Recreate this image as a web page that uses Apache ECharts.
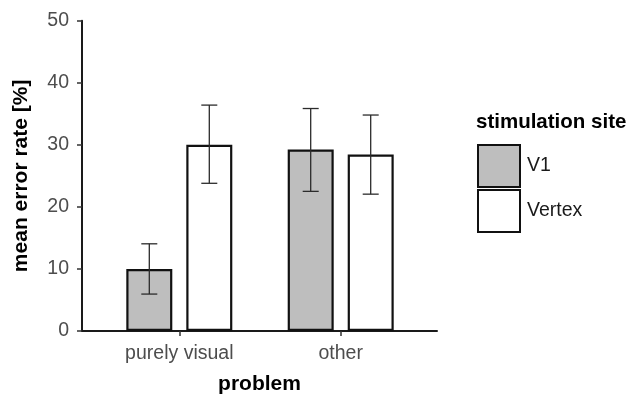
<!DOCTYPE html>
<html>
<head>
<meta charset="utf-8">
<script src="https://cdn.jsdelivr.net/npm/echarts@6/dist/echarts.min.js"></script>
<style>html,body{margin:0;padding:0;background:#fff}#c{width:629px;height:396px}</style>
</head>
<body>
<div id="c"></div>
<script>
const categories = ['purely visual', 'other'];
const seriesNames = ['V1', 'Vertex'];
const v1Mean = [10.0, 29.25];
const v1Low = [5.95, 22.5];
const v1High = [14.05, 35.85];
const vertexMean = [30.0, 28.45];
const vertexLow = [23.8, 22.05];
const vertexHigh = [36.4, 34.8];
const yTicks = [0, 10, 20, 30, 40, 50];

const FONT = "'Liberation Sans', Arial, sans-serif";
const BAR_W = 46, BAR_STEP = 60, CAP = 8;

function errSeries(lo, hi, sign) {
  return {
    type: 'custom', xAxisIndex: 1, yAxisIndex: 1, z: 5,
    data: categories.map((c, i) => [i, lo[i], hi[i]]),
    renderItem: function (params, api) {
      const a = api.coord([api.value(0), api.value(1)]);
      const b = api.coord([api.value(0), api.value(2)]);
      const x = a[0] + sign * BAR_STEP / 2;
      const st = { stroke: '#2b2b2b', lineWidth: 1.3 };
      return { type: 'group', children: [
        { type: 'line', shape: { x1: x, y1: a[1], x2: x, y2: b[1] }, style: st },
        { type: 'line', shape: { x1: x - CAP, y1: a[1], x2: x + CAP, y2: a[1] }, style: st },
        { type: 'line', shape: { x1: x - CAP, y1: b[1], x2: x + CAP, y2: b[1] }, style: st }
      ]};
    }
  };
}

const chart = echarts.init(document.getElementById('c'));
chart.setOption({
  animation: false,
  textStyle: { fontFamily: FONT },
  title: { text: 'stimulation site', left: 476, top: 112, padding: 0,
    textStyle: { fontFamily: FONT, fontSize: 20.5, fontWeight: 'bold', color: '#000' } },
  legend: {
    data: seriesNames, orient: 'vertical', left: 477, top: 144, padding: 0,
    itemWidth: 42, itemHeight: 42, itemGap: 1, icon: 'rect',
    textStyle: { fontFamily: FONT, fontSize: 19.5, color: '#1a1a1a', padding: [0, 0, 0, 2] }
  },
  grid: [
    { left: 82, right: 192, top: 20.7, bottom: 65, outerBoundsMode: 'none', containLabel: false },
    { left: 98.6, right: 207.6, top: 20.7, bottom: 65, outerBoundsMode: 'none', containLabel: false }
  ],
  xAxis: [
    { type: 'value', gridIndex: 0, min: 0.4, max: 2.6,
      axisLine: { show: true, lineStyle: { color: '#1a1a1a', width: 2 } },
      axisTick: { show: false }, axisLabel: { show: false }, splitLine: { show: false },
      name: 'problem', nameLocation: 'middle', nameGap: 43,
      nameTextStyle: { fontFamily: FONT, fontSize: 21, fontWeight: 'bold', color: '#000' } },
    { type: 'category', gridIndex: 1, data: categories,
      axisLine: { show: false },
      axisTick: { show: true, alignWithLabel: true, length: 5, lineStyle: { color: '#333', width: 1.5 } },
      axisLabel: { fontFamily: FONT, fontSize: 19.5, color: '#4d4d4d', margin: 13 } }
  ],
  yAxis: [
    { type: 'value', gridIndex: 0, min: 0, max: 50, interval: 10,
      axisLine: { show: true, lineStyle: { color: '#1a1a1a', width: 2 } },
      axisTick: { show: true, length: 5, lineStyle: { color: '#333', width: 1.5 } },
      axisLabel: { fontFamily: FONT, fontSize: 19.5, color: '#4d4d4d', margin: 13,
        formatter: v => yTicks.includes(v) ? String(v) : '' },
      splitLine: { show: false },
      name: 'mean error rate [%]', nameLocation: 'middle', nameGap: 50,
      nameTextStyle: { fontFamily: FONT, fontSize: 21, fontWeight: 'bold', color: '#000' } },
    { type: 'value', gridIndex: 1, min: 0, max: 50, interval: 10, show: false }
  ],
  series: [
    { name: 'V1', type: 'bar', xAxisIndex: 1, yAxisIndex: 1, data: v1Mean,
      barWidth: BAR_W, barGap: ((BAR_STEP - BAR_W) / BAR_W * 100) + '%',
      itemStyle: { color: '#bebebe', borderColor: '#111', borderWidth: 2.2 } },
    { name: 'Vertex', type: 'bar', xAxisIndex: 1, yAxisIndex: 1, data: vertexMean,
      barWidth: BAR_W,
      itemStyle: { color: '#ffffff', borderColor: '#111', borderWidth: 2.2 } },
    errSeries(v1Low, v1High, -1),
    errSeries(vertexLow, vertexHigh, 1)
  ]
});
</script>
</body>
</html>
